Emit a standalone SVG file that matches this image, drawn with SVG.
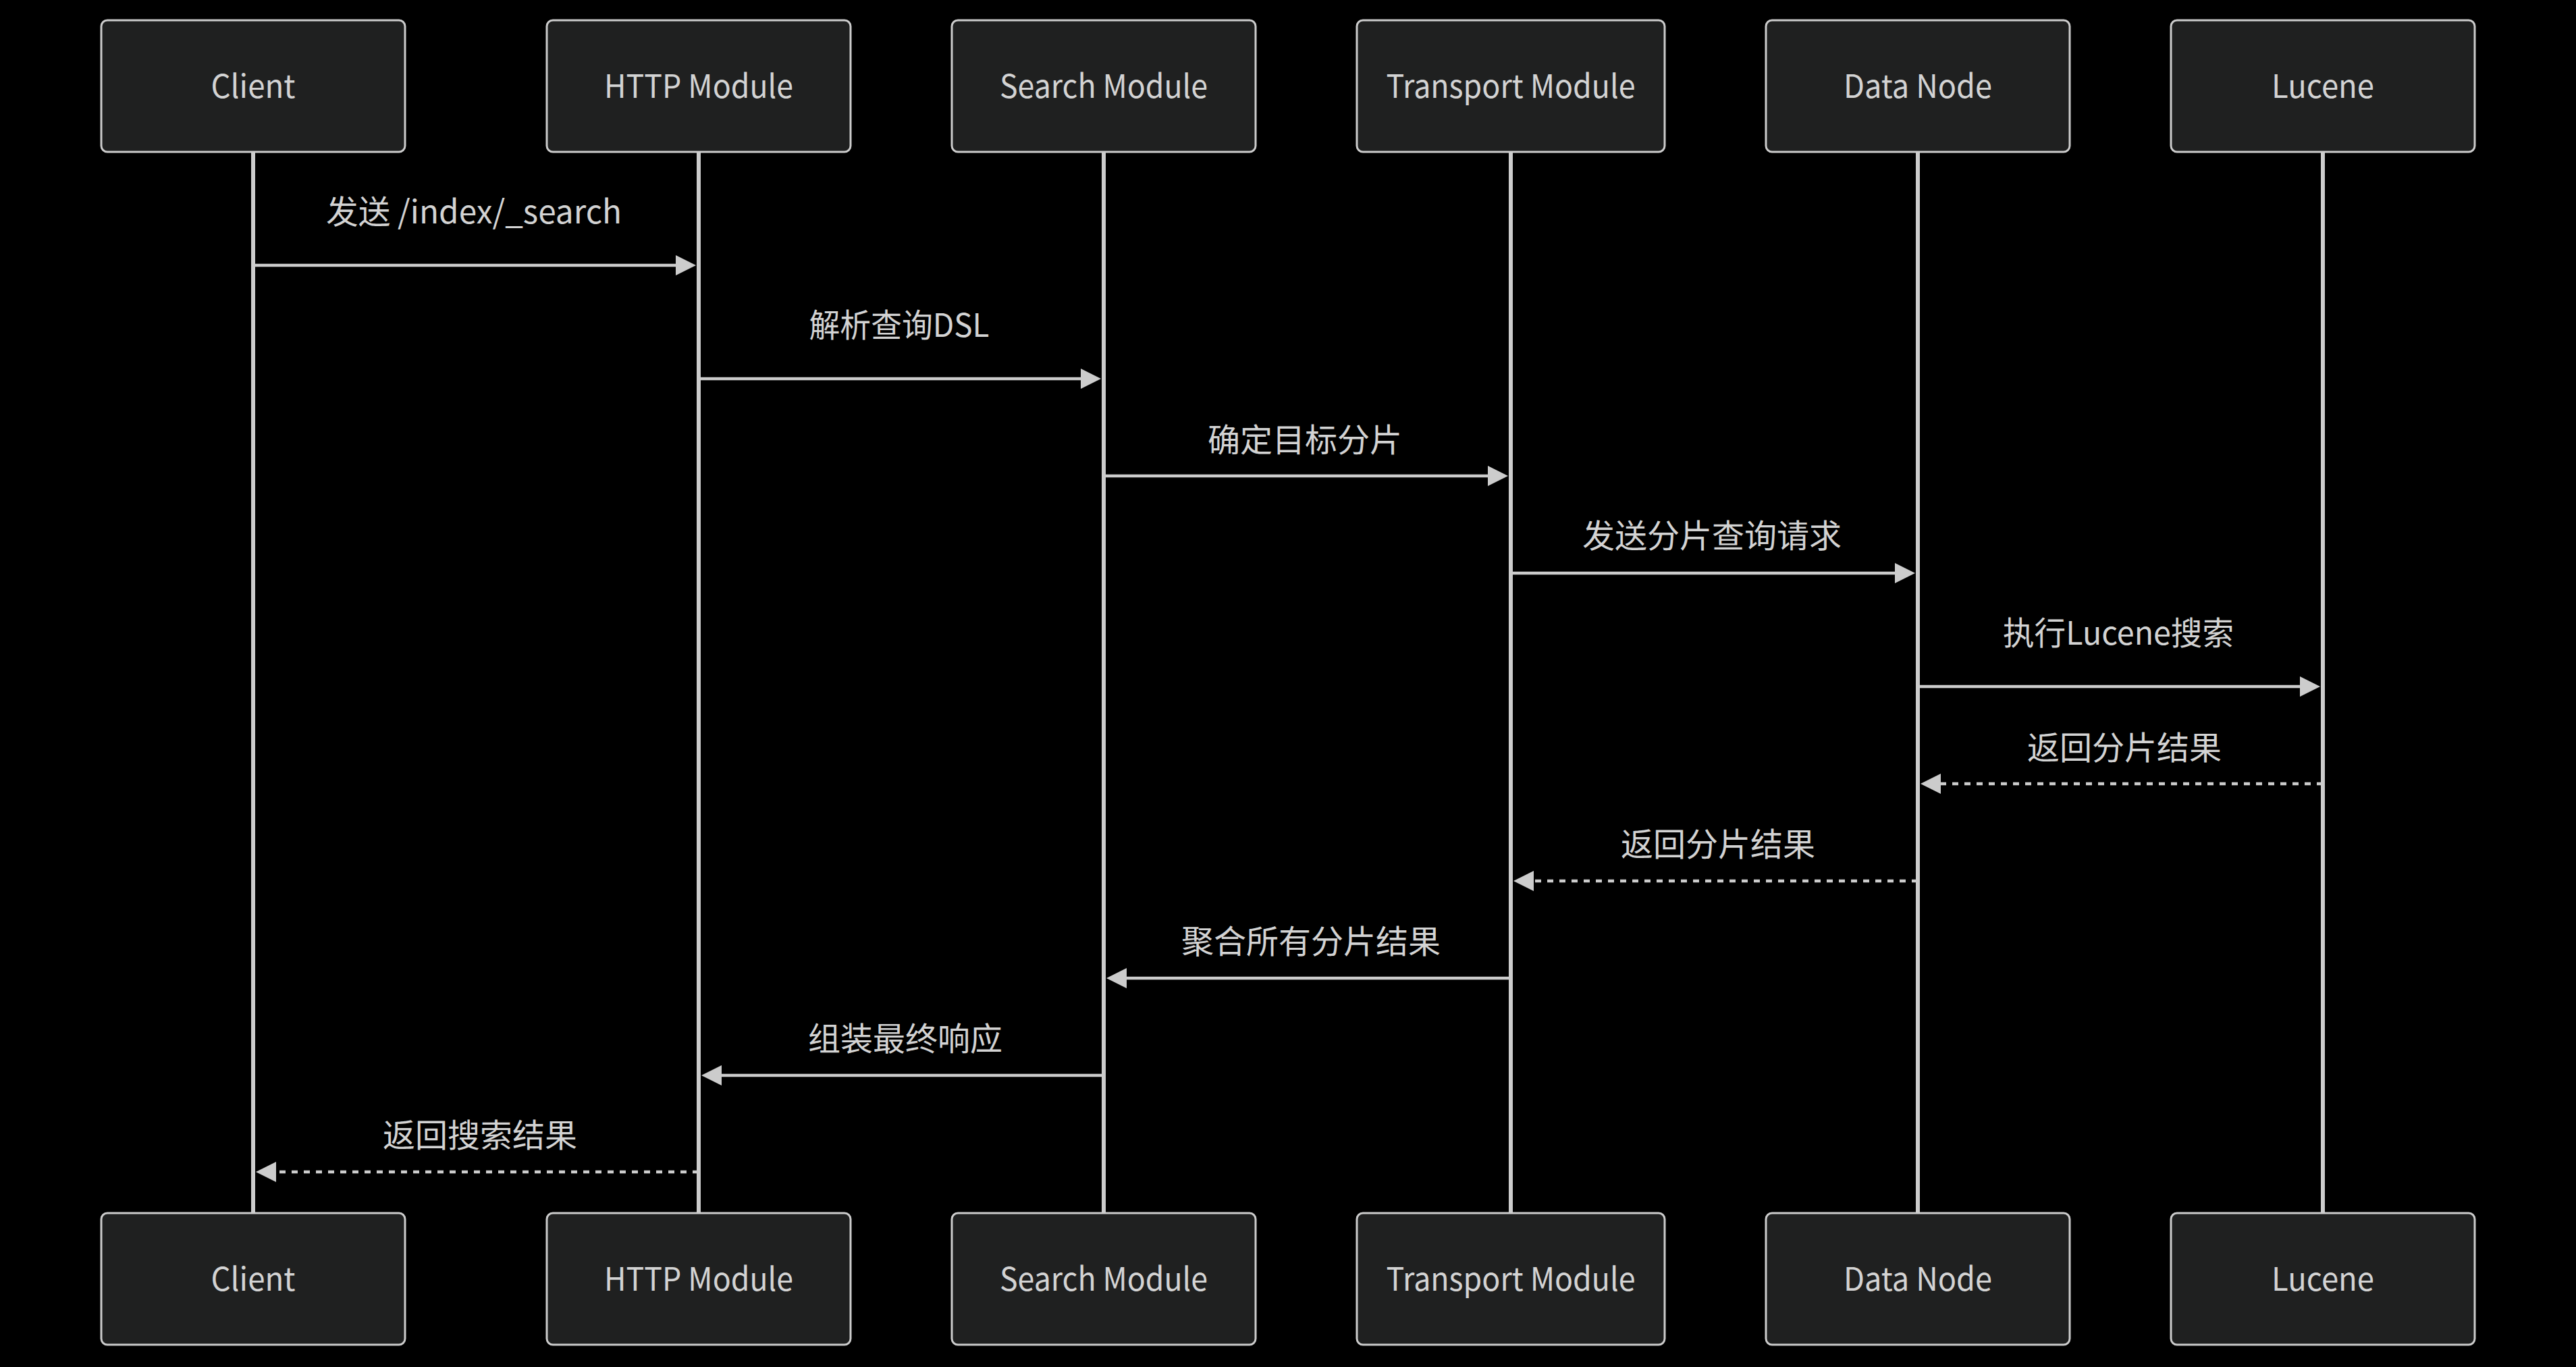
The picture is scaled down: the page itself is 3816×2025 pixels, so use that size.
<svg xmlns="http://www.w3.org/2000/svg" width="3816" height="2025" viewBox="0 0 3816 2025">
<style>
.bg{fill:#000000}
.actor rect{fill:#1f2020;stroke:#cccccc;stroke-width:3}
.actor text{fill:#d3d3d3;font-family:"Noto Sans CJK SC","Noto Sans",sans-serif;font-size:48px;text-anchor:middle}
.life{stroke:#cccccc;stroke-width:6}
.msg{stroke:#cccccc;stroke-width:4.5;fill:none;marker-end:url(#arrow)}
.dash{stroke-dasharray:9,9}
.lbl{fill:#d3d3d3;font-family:"Noto Sans CJK SC","Noto Sans",sans-serif;font-size:48px;text-anchor:middle}
</style>
<defs>
<marker id="arrow" markerUnits="userSpaceOnUse" markerWidth="30" markerHeight="30" viewBox="0 0 30 30" refX="22" refY="15" orient="auto">
<path d="M0,0 L30,15 L0,30 z" fill="#cccccc"/>
</marker>
</defs>
<rect class="bg" x="0" y="0" width="3816" height="2025"/>
<g id="lifelines">
<line class="life" x1="375" y1="225" x2="375" y2="1797"/>
<line class="life" x1="1035" y1="225" x2="1035" y2="1797"/>
<line class="life" x1="1635" y1="225" x2="1635" y2="1797"/>
<line class="life" x1="2238" y1="225" x2="2238" y2="1797"/>
<line class="life" x1="2841" y1="225" x2="2841" y2="1797"/>
<line class="life" x1="3441" y1="225" x2="3441" y2="1797"/>
</g>
<g id="client-top" class="actor"><rect x="150" y="30" width="450" height="195" rx="9"/><text x="375" y="145" textLength="125" lengthAdjust="spacingAndGlyphs">Client</text></g>
<g id="http-top" class="actor"><rect x="810" y="30" width="450" height="195" rx="9"/><text x="1035" y="145" textLength="280" lengthAdjust="spacingAndGlyphs">HTTP Module</text></g>
<g id="search-top" class="actor"><rect x="1410" y="30" width="450" height="195" rx="9"/><text x="1635" y="145" textLength="308" lengthAdjust="spacingAndGlyphs">Search Module</text></g>
<g id="transport-top" class="actor"><rect x="2010" y="30" width="456" height="195" rx="9"/><text x="2238" y="145" textLength="369" lengthAdjust="spacingAndGlyphs">Transport Module</text></g>
<g id="datanode-top" class="actor"><rect x="2616" y="30" width="450" height="195" rx="9"/><text x="2841" y="145" textLength="220" lengthAdjust="spacingAndGlyphs">Data Node</text></g>
<g id="lucene-top" class="actor"><rect x="3216" y="30" width="450" height="195" rx="9"/><text x="3441" y="145" textLength="152" lengthAdjust="spacingAndGlyphs">Lucene</text></g>
<g id="client-bottom" class="actor"><rect x="150" y="1797" width="450" height="195" rx="9"/><text x="375" y="1912" textLength="125" lengthAdjust="spacingAndGlyphs">Client</text></g>
<g id="http-bottom" class="actor"><rect x="810" y="1797" width="450" height="195" rx="9"/><text x="1035" y="1912" textLength="280" lengthAdjust="spacingAndGlyphs">HTTP Module</text></g>
<g id="search-bottom" class="actor"><rect x="1410" y="1797" width="450" height="195" rx="9"/><text x="1635" y="1912" textLength="308" lengthAdjust="spacingAndGlyphs">Search Module</text></g>
<g id="transport-bottom" class="actor"><rect x="2010" y="1797" width="456" height="195" rx="9"/><text x="2238" y="1912" textLength="369" lengthAdjust="spacingAndGlyphs">Transport Module</text></g>
<g id="datanode-bottom" class="actor"><rect x="2616" y="1797" width="450" height="195" rx="9"/><text x="2841" y="1912" textLength="220" lengthAdjust="spacingAndGlyphs">Data Node</text></g>
<g id="lucene-bottom" class="actor"><rect x="3216" y="1797" width="450" height="195" rx="9"/><text x="3441" y="1912" textLength="152" lengthAdjust="spacingAndGlyphs">Lucene</text></g>
<g id="connectors">
<line class="msg" x1="375" y1="393" x2="1023" y2="393"/>
<line class="msg" x1="1035" y1="561" x2="1623" y2="561"/>
<line class="msg" x1="1635" y1="705" x2="2226" y2="705"/>
<line class="msg" x1="2238" y1="849" x2="2829" y2="849"/>
<line class="msg" x1="2841" y1="1017" x2="3429" y2="1017"/>
<line class="msg dash" x1="3441" y1="1161" x2="2853" y2="1161"/>
<line class="msg dash" x1="2841" y1="1305" x2="2250" y2="1305"/>
<line class="msg" x1="2238" y1="1449" x2="1647" y2="1449"/>
<line class="msg" x1="1635" y1="1593" x2="1047" y2="1593"/>
<line class="msg dash" x1="1035" y1="1736" x2="387" y2="1736"/>
</g>
<g id="labels">
<text class="lbl" x="702" y="331" textLength="438" lengthAdjust="spacingAndGlyphs">发送 /index/_search</text>
<text class="lbl" x="1332" y="499" textLength="267" lengthAdjust="spacingAndGlyphs">解析查询DSL</text>
<text class="lbl" x="1933" y="669">确定目标分片</text>
<text class="lbl" x="2536" y="811">发送分片查询请求</text>
<text class="lbl" x="3138" y="955" textLength="342" lengthAdjust="spacingAndGlyphs">执行Lucene搜索</text>
<text class="lbl" x="3147" y="1125">返回分片结果</text>
<text class="lbl" x="2545" y="1268">返回分片结果</text>
<text class="lbl" x="1942" y="1412">聚合所有分片结果</text>
<text class="lbl" x="1341" y="1556">组装最终响应</text>
<text class="lbl" x="711" y="1699">返回搜索结果</text>
</g>
</svg>
